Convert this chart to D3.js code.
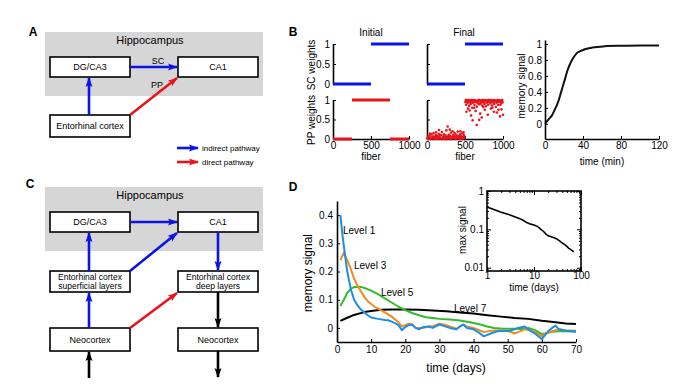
<!DOCTYPE html>
<html><head><meta charset="utf-8">
<script src="https://cdn.jsdelivr.net/npm/d3@7"></script>
<style>body{margin:0;background:#fff}svg{display:block;font-family:"Liberation Sans",Arial,Helvetica,sans-serif}</style>
</head><body><svg id="c" width="700" height="387"></svg>
<script>
// ---------------- DATA ----------------
const panelLetters = ["A","B","C","D"];
const diagramA = ["Hippocampus","DG/CA3","CA1","Entorhinal cortex"];
const legendLabels = ["indirect pathway","direct pathway"];
const diagramC = ["Hippocampus","DG/CA3","CA1","Entorhinal cortex|superficial layers","Entorhinal cortex|deep layers","Neocortex","Neocortex"];

const fiberTicks = [0,500,1000];
const weightTicks = [0,0.5,1];
// initial weights: segments [fromFiber, toFiber, weight]
const scInitial = [[0,500,0],[500,1000,1]];
const ppInitial = [[0,250,0],[250,750,1],[750,1000,0]];
const scFinal = [[0,500,0],[500,1000,1]];
// final PP weights (fiber, weight)
const ppFinalLow = [[5,.02],[15,.06],[25,.01],[35,.09],[45,.04],[55,.12],[65,.03],[75,.07],[85,.15],[95,.02],[105,.05],[115,.1],[125,.01],[135,.08],[145,.04],[155,.13],[165,.06],[175,.02],[185,.1],[195,.18],[205,.03],[215,.07],[225,.12],[235,.04],[245,.09],[255,.22],[265,.02],[275,.06],[285,.11],[295,.03],[305,.08],[315,.16],[325,.05],[335,.2],[345,.1],[355,.02],[365,.07],[375,.13],[385,.04],[395,.09],[405,.19],[415,.03],[425,.06],[435,.12],[445,.08],[455,.02],[465,.15],[475,.05],[485,.1],[495,.03],
 [10,0],[30,.03],[50,0],[70,.01],[90,.05],[110,0],[130,.03],[150,0],[170,.09],[190,0],[210,.02],[230,0],[250,.05],[270,0],[290,.08],[310,0],[330,.02],[350,.06],[370,0],[390,.01],[410,.07],[430,0],[450,.04],[470,0],[490,.06],[272,.32],[158,.23],[300,.24],[440,.2],[40,.14],[120,.17],[360,.16],[480,.17]];
const ppFinalHigh = [[505,.95],[515,.88],[525,1],[535,.92],[545,.97],[555,.85],[565,.99],[575,.9],[585,.96],[595,.8],[605,.93],[615,1],[625,.87],[635,.95],[645,.98],[655,.83],[665,.92],[675,1],[685,.89],[695,.96],[705,.91],[715,.99],[725,.86],[735,.94],[745,1],[755,.9],[765,.97],[775,.84],[785,.93],[795,.99],[805,.88],[815,.95],[825,1],[835,.91],[845,.97],[855,.86],[865,.94],[875,.99],[885,.9],[895,.96],[905,.82],[915,.93],[925,1],[935,.88],[945,.95],[955,.98],[965,.87],[975,.92],[985,1],[995,.94],
 [510,1],[530,.97],[550,1],[570,.94],[590,1],[610,.97],[630,1],[650,.95],[670,.97],[690,1],[710,.95],[730,1],[750,.97],[770,1],[790,.95],[810,1],[830,.97],[850,1],[870,.96],[890,1],[910,.98],[930,.96],[950,1],[970,.97],[990,1],
 [520,.7],[540,.78],[580,.6],[600,.48],[640,.72],[654,.36],[687,.49],[700,.65],[720,.55],[760,.75],[800,.62],[840,.78],[880,.7],[920,.68],[960,.58],[980,.76],[1000,.62],[620,.8],[740,.82],[860,.8],[940,.75],[560,.73]];

// memory signal during learning (minutes)
const learnT = [0,2,4,7,10,14,17,21,24,26,30,33,37,42,50,58,65,80,100,120];
const learnV = [0,0.03,0.06,0.1,0.17,0.28,0.4,0.56,0.68,0.74,0.83,0.88,0.91,0.935,0.955,0.965,0.975,0.978,0.98,0.98];
const learnYTicks = [0,0.2,0.4,0.6,0.8,1];
const learnXTicks = [0,40,80,120];

// panel D
const levelNames = ["Level 1","Level 3","Level 5","Level 7"];
const lvl1T = [1,1.5,2,3,4,5,6,7,8,9,10,12,14,15,16,17,18,19,20,21,22,23,24,25,27,28,30,31,33,35,36,37,38,40,41,43,45,47,49,50,52,53,55,56,58,60,61,62,63,64,65,67,70];
const lvl1V = [0.40,0.34,0.29,0.2,0.14,0.1,0.08,0.065,0.055,0.045,0.037,0.032,0.028,0.027,0.022,0.017,0.01,-0.008,0.003,0.01,0.012,0,-0.005,0.002,0.005,0,0.012,0.008,0,-0.005,0.005,0.012,0,-0.005,-0.012,-0.03,-0.02,-0.012,-0.01,-0.012,-0.005,0,0.005,-0.005,-0.02,-0.04,-0.025,-0.01,0,0.008,-0.005,-0.01,-0.012];
const lvl3T = [1,2,3,4,5,6,7,8,9,10,11,12,14,16,18,19,20,21,22,23,25,27,28,30,32,33,35,37,38,40,42,43,45,48,50,52,53,55,57,58,60,61,63,65,67,70];
const lvl3V = [0.24,0.267,0.24,0.21,0.175,0.15,0.13,0.11,0.095,0.085,0.075,0.068,0.055,0.04,0.02,0.005,0.01,0.015,0.012,0,0,0.005,0.005,0.015,0.01,0.005,-0.003,0.012,0.005,0,-0.01,-0.015,-0.01,-0.008,-0.01,-0.02,-0.015,-0.005,-0.01,-0.015,-0.03,-0.02,-0.012,-0.005,-0.008,-0.01];
const lvl5T = [1,2,3,4,5,6,7,8,10,12,14,16,18,20,22,24,26,28,30,33,36,39,42,44,46,48,50,52,54,56,58,60,61,63,65,67,70];
const lvl5V = [0.078,0.1,0.124,0.138,0.145,0.146,0.145,0.142,0.132,0.12,0.105,0.09,0.075,0.063,0.053,0.045,0.038,0.035,0.032,0.03,0.026,0.02,0.012,0.005,0,-0.002,-0.003,-0.003,-0.004,0,-0.008,-0.022,-0.02,-0.014,-0.012,-0.012,-0.014];
const lvl7T = [1,3,5,8,10,13,16,20,24,28,32,36,40,44,48,52,56,60,64,67,70];
const lvl7V = [0.025,0.036,0.046,0.056,0.06,0.064,0.065,0.065,0.064,0.062,0.059,0.055,0.051,0.045,0.04,0.035,0.032,0.025,0.02,0.016,0.014];
const dXTicks = [0,10,20,30,40,50,60,70];
const dYTicks = [0,0.1,0.2,0.3,0.4];
// inset: max signal vs time (log-log)
const insetT = [1,1.5,2,3,4,5,6,7,8,10,12,14,16,18,20,25,30,35,40,45,50,55,60,65,70];
const insetV = [0.38,0.32,0.28,0.24,0.21,0.19,0.17,0.15,0.14,0.13,0.118,0.1,0.088,0.075,0.068,0.062,0.057,0.05,0.044,0.04,0.036,0.032,0.03,0.028,0.026];
const insetXTicks = [1,10,100];
const insetYTicks = [0.01,0.1,1];

// ---------------- DRAW ----------------
const svg = d3.select("#c");
svg.append("rect").attr("width",700).attr("height",387).attr("fill","#fff");
const BLUE="#0a14e6", RED="#e8141c", BLACK="#000";
const defs = svg.append("defs");
[["b",BLUE],["r",RED],["k",BLACK]].forEach(([id,c])=>{
  defs.append("marker").attr("id","m"+id).attr("markerUnits","userSpaceOnUse")
    .attr("markerWidth",10).attr("markerHeight",8).attr("refX",9).attr("refY",4).attr("orient","auto")
    .append("path").attr("d","M0,0.5 L10,4 L0,7.5 L2,4 Z").attr("fill",c);
});
const mk = {[BLUE]:"url(#mb)",[RED]:"url(#mr)",[BLACK]:"url(#mk)"};
const plain = d3.format("d");

function label(x,y,str,size,opts={}){
  const t = svg.append("text").attr("x",x).attr("y",y).attr("font-size",size)
    .attr("text-anchor",opts.anchor||"middle").attr("dominant-baseline","central")
    .attr("font-weight",opts.bold?"bold":"normal").attr("fill","#000").text(str);
  if(opts.rot) t.attr("transform",`rotate(-90,${x},${y})`);
  return t;
}
function arrow(x1,y1,x2,y2,c){
  svg.append("line").attr("x1",x1).attr("y1",y1).attr("x2",x2).attr("y2",y2)
    .attr("stroke",c).attr("stroke-width",2.6).attr("marker-end",mk[c]);
}
function box(x,y,w,h,str,size){
  svg.append("rect").attr("x",x).attr("y",y).attr("width",w).attr("height",h)
    .attr("fill","#fff").attr("stroke","#000").attr("stroke-width",1.6);
  const parts = str.split("|");
  parts.forEach((p,i)=>label(x+w/2, y+h/2 + (i-(parts.length-1)/2)*9, p, size));
}

// Panel letters
label(33,32,panelLetters[0],12,{bold:true});
label(293,32,panelLetters[1],12,{bold:true});
label(30,184,panelLetters[2],12,{bold:true});
label(293,187,panelLetters[3],12,{bold:true});

// ---- Panel A ----
svg.append("rect").attr("x",45).attr("y",32).attr("width",218).attr("height",64).attr("fill","#d6d6d6");
label(150,40,diagramA[0],11);
box(50,57,80,20,diagramA[1],9);
box(178,57,80,20,diagramA[2],9);
box(50,115,80,22,diagramA[3],9);
arrow(130,67,177,67,BLUE);
arrow(89,115,89,78,BLUE);
arrow(130,115,177,78,RED);
label(158,61,"SC",9);
label(157,85,"PP",9);
arrow(177,148,198,148,BLUE);
arrow(177,162,198,162,RED);
label(202,148,legendLabels[0],8,{anchor:"start"});
label(202,162,legendLabels[1],8,{anchor:"start"});

// ---- Panel C ----
svg.append("rect").attr("x",45).attr("y",187).attr("width",218).attr("height",64).attr("fill","#d6d6d6");
label(150,195,diagramC[0],11);
box(50,212,80,20,diagramC[1],9);
box(178,212,80,20,diagramC[2],9);
box(50,271,80,21,diagramC[3],8.5);
box(178,271,80,21,diagramC[4],8.5);
box(50,328,80,23,diagramC[5],9);
box(178,328,80,23,diagramC[6],9);
arrow(130,222,177,222,BLUE);
arrow(89,271,89,233,BLUE);
arrow(130,271,177,233,BLUE);
arrow(218,232,218,270,BLUE);
arrow(89,328,89,293,BLUE);
arrow(130,328,177,293,RED);
arrow(218,292,218,327,BLACK);
arrow(218,351,218,377,BLACK);
arrow(89,378,89,352,BLACK);

// ---- Panel B weights ----
function styleAxis(g){
  g.selectAll("path").attr("stroke","#000").attr("stroke-width",1.6);
  g.selectAll("line").attr("stroke","#000").attr("stroke-width",1);
  g.selectAll("text").attr("fill","#000");
  g.attr("font-family",null);
}
const xInit = d3.scaleLinear().domain([0,1000]).range([333,409]);
const xFin = d3.scaleLinear().domain([0,1000]).range([427,503]);
const ySC = d3.scaleLinear().domain([0,1]).range([84,44]);
const yPP = d3.scaleLinear().domain([0,1]).range([139,100]);
const fmt = d=> d===0?"0":String(d);

[[xInit,true],[xFin,false]].forEach(([xs,lbl])=>{
  const ga = svg.append("g").attr("transform",`translate(${xs(0)},0)`).attr("font-size",8)
    .call(d3.axisLeft(ySC).tickValues(weightTicks).tickSize(-3).tickSizeOuter(0).tickPadding(3).tickFormat(lbl?fmt:""));
  styleAxis(ga);
  const gp = svg.append("g").attr("transform",`translate(${xs(0)},0)`).attr("font-size",8)
    .call(d3.axisLeft(yPP).tickValues(weightTicks).tickSize(-3).tickSizeOuter(0).tickPadding(3).tickFormat(lbl?fmt:""));
  styleAxis(gp);
  const gx = svg.append("g").attr("transform",`translate(0,${yPP(0)})`).attr("font-size",8.5)
    .call(d3.axisBottom(xs).tickValues(fiberTicks).tickSize(-3).tickSizeOuter(0).tickPadding(3).tickFormat(plain));
  styleAxis(gx);
  label((xs(0)+xs(1000))/2,156,"fiber",10);
});
function segs(data,xs,ys,c){
  svg.append("g").selectAll("line").data(data).join("line")
    .attr("x1",d=>xs(d[0])).attr("x2",d=>xs(d[1])).attr("y1",d=>ys(d[2])).attr("y2",d=>ys(d[2]))
    .attr("stroke",c).attr("stroke-width",3);
}
segs(scInitial,xInit,ySC,BLUE);
segs(ppInitial,xInit,yPP,RED);
segs(scFinal,xFin,ySC,BLUE);
svg.append("g").selectAll("circle").data(ppFinalLow.concat(ppFinalHigh)).join("circle")
  .attr("cx",d=>xFin(d[0])).attr("cy",d=>yPP(d[1])).attr("r",1.3).attr("fill",RED);
label(371,32,"Initial",10);
label(464,32,"Final",10);
label(311,65,"SC weights",10,{rot:true});
label(311,120,"PP weights",10,{rot:true});

// ---- Panel B learning curve ----
const xL = d3.scaleLinear().domain([0,120]).range([545,659]);
const yL = d3.scaleLinear().domain([-0.19,1.05]).range([139,40]);
styleAxis(svg.append("g").attr("transform",`translate(${xL(0)},0)`).attr("font-size",8)
  .call(d3.axisLeft(yL).tickValues(learnYTicks).tickSize(-3).tickSizeOuter(0).tickPadding(3).tickFormat(fmt)));
styleAxis(svg.append("g").attr("transform",`translate(0,${yL(-0.19)})`).attr("font-size",8.5)
  .call(d3.axisBottom(xL).tickValues(learnXTicks).tickSize(-3).tickSizeOuter(0).tickPadding(3)));
svg.append("path").datum(learnT.map((t,i)=>[t,learnV[i]]))
  .attr("d",d3.line().x(d=>xL(d[0])).y(d=>yL(d[1])).curve(d3.curveMonotoneX))
  .attr("fill","none").attr("stroke","#111").attr("stroke-width",2);
label(521,86,"memory signal",10,{rot:true});
label(602,161,"time (min)",10);

// ---- Panel D ----
const xD = d3.scaleLinear().domain([0,70]).range([337,576]);
const yD = d3.scaleLinear().domain([-0.05,0.45]).range([342,201]);
styleAxis(svg.append("g").attr("transform",`translate(${xD(0)},0)`).attr("font-size",10)
  .call(d3.axisLeft(yD).tickValues(dYTicks).tickSize(-3).tickSizeOuter(0).tickPadding(4).tickFormat(fmt)));
styleAxis(svg.append("g").attr("transform",`translate(0,${yD(-0.05)})`).attr("font-size",10)
  .call(d3.axisBottom(xD).tickValues(dXTicks).tickSize(-3).tickSizeOuter(0).tickPadding(4)));
const lineD = d3.line().x(d=>xD(d[0])).y(d=>yD(d[1]));
const series = [[lvl7T,lvl7V,"#000"],[lvl5T,lvl5V,"#2dbd2a"],[lvl3T,lvl3V,"#f08c22"],[lvl1T,lvl1V,"#1c8ee6"]];
series.forEach(([T,V,c])=>{
  svg.append("path").datum(T.map((t,i)=>[t,V[i]])).attr("d",lineD)
    .attr("fill","none").attr("stroke",c).attr("stroke-width",2).attr("stroke-linejoin","round");
});
label(343,230,levelNames[0],10,{anchor:"start"});
label(354,265,levelNames[1],10,{anchor:"start"});
label(381,292,levelNames[2],10,{anchor:"start"});
label(454,308,levelNames[3],10,{anchor:"start"});
label(308,273,"memory signal",12,{rot:true});
label(456,368,"time (days)",12);

// inset
const xI = d3.scaleLog().domain([1,100]).range([487,581]);
const yI = d3.scaleLog().domain([0.0082,1]).range([271,191]);
svg.append("rect").attr("x",487).attr("y",191).attr("width",94).attr("height",80)
  .attr("fill","#fff").attr("stroke","#000").attr("stroke-width",1.6);
const xMinor = d3.range(2,10).concat(d3.range(20,100,10));
const yMinor = [0.009].concat(d3.range(2,10).map(d=>d/100), d3.range(2,10).map(d=>d/10));
function ticksG(axisFn,scale,vals,size,transl,lab,pad){
  const g = svg.append("g").attr("transform",transl).attr("font-size",9)
    .call(axisFn(scale).tickValues(vals).tickSize(-size).tickSizeOuter(0).tickPadding(pad).tickFormat(lab?(d=>String(d)):""));
  styleAxis(g); g.select("path").remove();
}
ticksG(d3.axisBottom,xI,insetXTicks,4,"translate(0,271)",true,1);
ticksG(d3.axisBottom,xI,xMinor,2,"translate(0,271)",false,1);
ticksG(d3.axisTop,xI,insetXTicks,4,"translate(0,191)",false,1);
ticksG(d3.axisTop,xI,xMinor,2,"translate(0,191)",false,1);
ticksG(d3.axisLeft,yI,insetYTicks,4,"translate(487,0)",true,3);
ticksG(d3.axisLeft,yI,yMinor,2,"translate(487,0)",false,3);
ticksG(d3.axisRight,yI,insetYTicks,4,"translate(581,0)",false,3);
ticksG(d3.axisRight,yI,yMinor,2,"translate(581,0)",false,3);
svg.append("path").datum(insetT.map((t,i)=>[t,insetV[i]]))
  .attr("d",d3.line().x(d=>xI(d[0])).y(d=>yI(d[1])))
  .attr("fill","none").attr("stroke","#000").attr("stroke-width",1.6);
label(462,230,"max signal",10,{rot:true});
label(534,287,"time (days)",10);
</script></body></html>
